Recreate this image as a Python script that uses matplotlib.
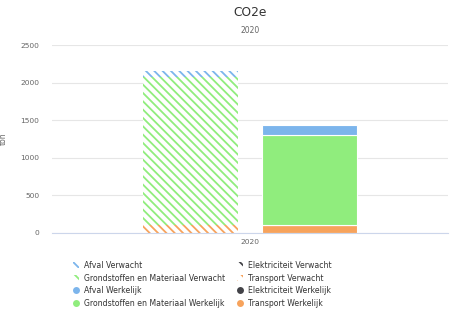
import numpy as np
import matplotlib.pyplot as plt
from matplotlib.patches import Patch
from matplotlib.lines import Line2D

# Data (ton CO2e, 2020)
categories = ['2020']
stack_order = ['Transport', 'Elektriciteit', 'Grondstoffen en Materiaal', 'Afval']
verwacht = [110, 0, 1970, 70]
werkelijk = [100, 0, 1200, 135]
colors = {'Afval': '#7cb5ec', 'Elektriciteit': '#434348',
          'Grondstoffen en Materiaal': '#90ed7d', 'Transport': '#f7a35c'}

plt.rcParams['font.family'] = 'DejaVu Sans'
plt.rcParams['hatch.linewidth'] = 1.3
fig = plt.figure(figsize=(4.54, 3.24), dpi=100)
ax = fig.add_axes([0.1145, 0.281, 0.8725, 0.58])

x = np.arange(len(categories))
w = 0.24
off = 0.15
hatch = '\\' * 4

# expected: hatched bars
bottom = 0
for name, v in zip(stack_order, verwacht):
    ax.bar(x - off, v, w, bottom=bottom, facecolor='white',
           edgecolor=colors[name], hatch=hatch, linewidth=0)
    bottom += v

# actual: solid bars
bottom = 0
for name, v in zip(stack_order, werkelijk):
    ax.bar(x + off, v, w, bottom=bottom, color=colors[name],
           edgecolor='white', linewidth=0.8)
    bottom += v

ax.set_xlim(-0.5, 0.5)
ax.set_ylim(0, 2500)
ax.set_yticks([0, 500, 1000, 1500, 2000, 2500])
ax.set_xticks(x)
ax.set_xticklabels(categories)
ax.tick_params(axis='both', length=0, labelsize=5.4, colors='#666666')
ax.tick_params(axis='y', pad=9)
ax.tick_params(axis='x', pad=4)
ax.grid(axis='y', color='#e6e6e6', linewidth=0.8)
ax.set_axisbelow(True)
for s in ['top', 'right', 'left']:
    ax.spines[s].set_visible(False)
ax.spines['bottom'].set_color('#ccd6eb')
ax.spines['bottom'].set_linewidth(0.8)
ax.set_ylabel('ton', fontsize=5.5, color='#666666')
ax.yaxis.set_label_coords(-0.112, 0.5)

fig.text(0.551, 0.962, 'CO2e', ha='center', va='center', fontsize=8.8, color='#333333')
fig.text(0.551, 0.905, '2020', ha='center', va='center', fontsize=5.5, color='#666666')

# legend, row-major in two columns
hv = lambda n: Patch(facecolor='white', edgecolor=colors[n], hatch='\\\\\\', linewidth=0)
hw = lambda n: Line2D([], [], marker='o', linestyle='', markersize=5,
                      markerfacecolor=colors[n], markeredgewidth=0)
handles = [hv('Afval'), hv('Grondstoffen en Materiaal'), hw('Afval'), hw('Grondstoffen en Materiaal'),
           hv('Elektriciteit'), hv('Transport'), hw('Elektriciteit'), hw('Transport')]
labels = ['Afval Verwacht', 'Grondstoffen en Materiaal Verwacht', 'Afval Werkelijk',
          'Grondstoffen en Materiaal Werkelijk', 'Elektriciteit Verwacht', 'Transport Verwacht',
          'Elektriciteit Werkelijk', 'Transport Werkelijk']
leg = fig.legend(handles, labels, ncol=2, loc='upper left', bbox_to_anchor=(0.16, 0.194),
                 frameon=False, fontsize=5.6, handlelength=0.8, handleheight=0.8,
                 handletextpad=0.7, columnspacing=1.45, labelspacing=0.45,
                 borderaxespad=0, borderpad=0)
for t in leg.get_texts():
    t.set_color('#333333')

fig.savefig('out.png', dpi=100)
